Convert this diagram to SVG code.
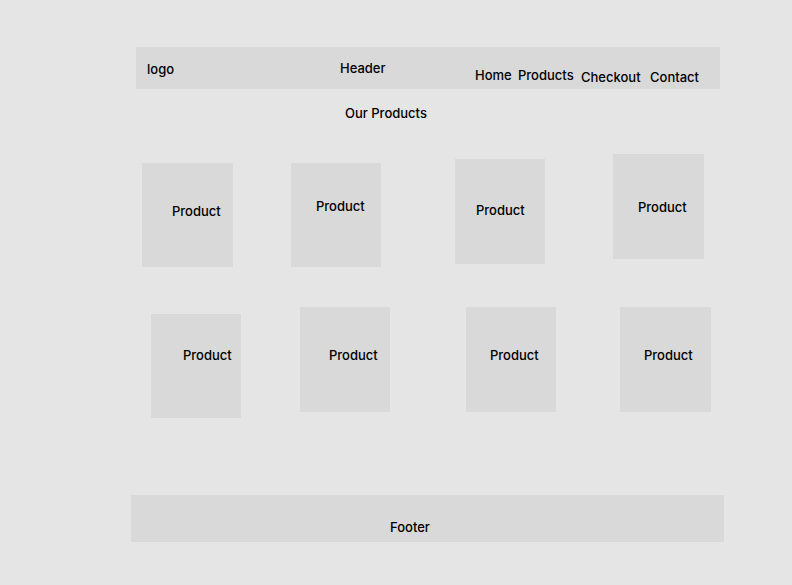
<svg xmlns="http://www.w3.org/2000/svg" width="792" height="585" viewBox="0 0 792 585">
<style>
.box{fill:#d9d9d9}
.t{font-family:Inter,"Liberation Sans",sans-serif;font-size:13px;font-weight:500;fill:#000}
</style>
<rect x="0" y="0" width="792" height="585" fill="#e5e5e5"/>
<g id="header">
<rect class="box" x="136" y="47" width="584" height="42"/>
<text class="t" x="147" y="74">logo</text>
<text class="t" x="340" y="73">Header</text>
<text class="t" x="475" y="80">Home</text>
<text class="t" x="518" y="80">Products</text>
<text class="t" x="581" y="82">Checkout</text>
<text class="t" x="650" y="82">Contact</text>
</g>
<g id="title"><text class="t" x="345" y="118">Our Products</text></g>
<g id="p1"><rect class="box" x="142" y="163" width="91" height="104"/><text class="t" x="172" y="216">Product</text></g>
<g id="p2"><rect class="box" x="291" y="163" width="90" height="104"/><text class="t" x="316" y="211">Product</text></g>
<g id="p3"><rect class="box" x="455" y="159" width="90" height="105"/><text class="t" x="476" y="215">Product</text></g>
<g id="p4"><rect class="box" x="613" y="154" width="91" height="105"/><text class="t" x="638" y="212">Product</text></g>
<g id="p5"><rect class="box" x="151" y="314" width="90" height="104"/><text class="t" x="183" y="360">Product</text></g>
<g id="p6"><rect class="box" x="300" y="307" width="90" height="105"/><text class="t" x="329" y="360">Product</text></g>
<g id="p7"><rect class="box" x="466" y="307" width="90" height="105"/><text class="t" x="490" y="360">Product</text></g>
<g id="p8"><rect class="box" x="620" y="307" width="91" height="105"/><text class="t" x="644" y="360">Product</text></g>
<g id="footer"><rect class="box" x="131" y="495" width="593" height="47"/><text class="t" x="390" y="532">Footer</text></g>
<g id="connectors"/>
</svg>
